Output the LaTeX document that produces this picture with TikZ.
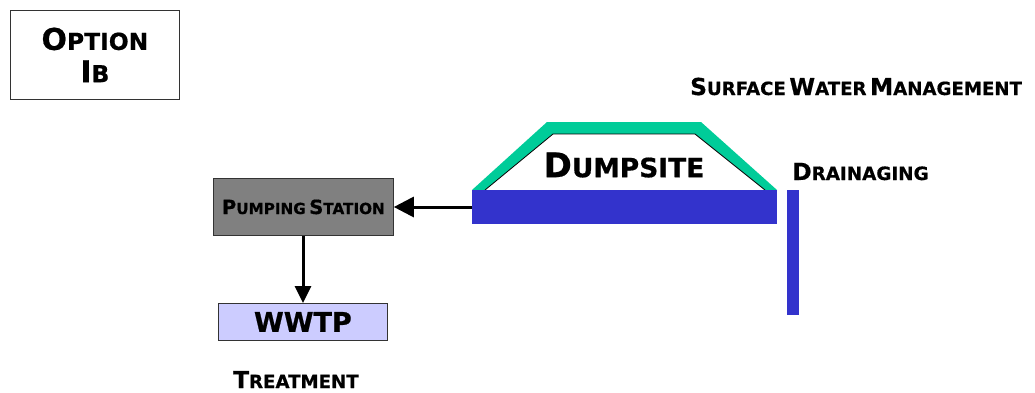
\documentclass[tikz,border=0pt]{standalone}
\usepackage{fontspec}
\setmainfont{DejaVu Sans}[BoldFeatures={FakeBold=0.6}]
\usetikzlibrary{arrows.meta}
% small-caps word: first letter at #1 pt, the rest as reduced capitals
\newcommand\scw[3]{{\fontsize{#1pt}{#1pt}\selectfont #2}{\fontsize{\fpeval{0.78*#1}pt}{\fpeval{0.78*#1}pt}\selectfont #3}}
\definecolor{padblue}{HTML}{3333CC}
\definecolor{capgreen}{HTML}{00CC99}
\definecolor{pumpgray}{HTML}{808080}
\definecolor{plantlilac}{HTML}{CCCCFF}
\tikzset{
  label/.style={font=\bfseries, inner sep=0pt, text=black},
  boxed/.style={draw=black!80, line width=0.8pt, inner sep=0pt, font=\bfseries},
  flow/.style={line width=3pt, -{Triangle[length=20pt,width=20pt]}},
}
\begin{document}
\begin{tikzpicture}[x=1pt,y=-1pt]
\useasboundingbox (0,0) rectangle (1035,392);
% title box
\node[boxed, fill=white, minimum width=169pt, minimum height=89pt, anchor=north west, align=center]
  (option) at (10,10) {\scw{30}{O}{PTION}\\[9pt]\scw{30}{I}{B}};
% landfill cap: green outer band, white interior outlined in black
\fill[capgreen] (472,190) -- (547,122) -- (701,122) -- (777,190) -- cycle;
\filldraw[fill=white, draw=black, line width=0.8pt] (485,190) -- (553,134) -- (695,134) -- (765,190);
% drainage pad under the dump and the side drain
\node[fill=padblue, minimum width=305pt, minimum height=34pt, inner sep=0pt, anchor=north west] (pad) at (472,190) {};
\node[fill=padblue, minimum width=12pt, minimum height=125pt, inner sep=0pt, anchor=north west] (drain) at (787,190) {};
\node[label] (dump) at (624,165) {\scw{34}{D}{UMPSITE}};
% treatment chain
\node[boxed, fill=pumpgray, minimum width=180pt, minimum height=57pt, anchor=north west] (pump) at (213,178) {\scw{19.5}{P}{UMPING} \scw{19.5}{S}{TATION}};
\node[boxed, fill=plantlilac, minimum width=169pt, minimum height=37pt, anchor=north west] (wwtp) at (218,303) {\fontsize{27pt}{27pt}\selectfont WWTP};
\draw[flow] (pad.west |- 0,207) -- (pump.east |- 0,207);
\draw[line width=3pt, -{Triangle[length=17pt,width=16pt]}] (pump.south -| 303,0) -- (wwtp.north -| 303,0);
% labels
\node[label, anchor=base west] (swm) at (690,95) {\scw{23.3}{S}{URFACE} \scw{23.3}{W}{ATER} \scw{23.3}{M}{ANAGEMENT}};
\node[label, anchor=base west] (drainlbl) at (792,180) {\scw{23.5}{D}{RAINAGING}};
\node[label, anchor=base west] (treat) at (233,388) {\scw{23.3}{T}{REATMENT}};
\end{tikzpicture}
\end{document}
